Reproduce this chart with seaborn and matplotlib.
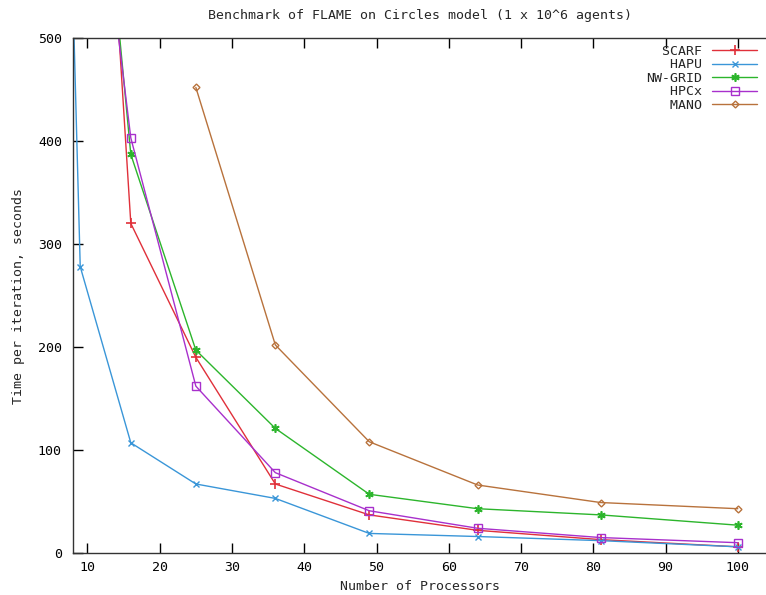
import matplotlib
matplotlib.use("Agg")
import matplotlib.pyplot as plt
import seaborn as sns
import pandas as pd

# ---- data ----
scarf_x = [9, 16, 25, 36, 49, 64, 81, 100]
scarf_y = [1100, 320, 190, 67, 37, 22, 13, 6]
hapu_x = [4, 9, 16, 25, 36, 49, 64, 81, 100]
hapu_y = [1580, 278, 107, 67, 53, 19, 16, 12, 6]
nwgrid_x = [9, 16, 25, 36, 49, 64, 81, 100]
nwgrid_y = [905, 387, 197, 121, 57, 43, 37, 27]
hpcx_x = [9, 16, 25, 36, 49, 64, 81, 100]
hpcx_y = [804, 403, 162, 78, 41, 24, 15, 10]
mano_x = [25, 36, 49, 64, 81, 100]
mano_y = [452, 202, 108, 66, 49, 43]

series_names = ["SCARF", "HAPU", "NW-GRID", "HPCx", "MANO"]
x_ticks = [10, 20, 30, 40, 50, 60, 70, 80, 90, 100]
y_ticks = [0, 100, 200, 300, 400, 500]

title = "Benchmark of FLAME on Circles model (1 x 10^6 agents)"
x_label = "Number of Processors"
y_label = "Time per iteration, seconds"

sns.set_style("ticks")
plt.rcParams["font.family"] = ["DejaVu Sans Mono"]

fig = plt.figure(figsize=(7.66, 5.95), dpi=100)
ax = fig.add_axes([73 / 766, 1 - 553 / 595, 1 - 73 / 766, (553 - 38) / 595])

width = max(len(n) for n in series_names)
series = [
    (scarf_x, scarf_y, "#e0303a", "+", dict(markersize=7, markeredgewidth=1.2)),
    (hapu_x, hapu_y, "#3a96d8", "x", dict(markersize=5, markeredgewidth=1.0)),
    (nwgrid_x, nwgrid_y, "#2cb52c", (6, 2, 0), dict(markersize=6, markeredgewidth=1.2)),
    (hpcx_x, hpcx_y, "#a830cc", "s", dict(markersize=5.5, markeredgewidth=1.0, markerfacecolor="none")),
    (mano_x, mano_y, "#b8723c", "D", dict(markersize=3.5, markeredgewidth=1.0, markerfacecolor="none")),
]

for name, (xs, ys, col, mk, kw) in zip(series_names, series):
    df = pd.DataFrame({"x": xs, "y": ys})
    sns.lineplot(data=df, x="x", y="y", ax=ax, color=col, marker=mk,
                 markeredgecolor=col, linewidth=1.0, label=name.rjust(width),
                 sort=False, **kw)

ax.set_xlim(8, 103.9)
ax.set_ylim(0, 500)
ax.set_xticks(x_ticks)
ax.set_yticks(y_ticks)
ax.tick_params(direction="in", length=7, width=1.0, labelsize=9.5,
               top=True, right=False, colors="black")
ax.tick_params(axis="x", pad=6)
ax.tick_params(axis="y", pad=8)
ax.spines["right"].set_visible(False)
for s in ["left", "bottom", "top"]:
    ax.spines[s].set_linewidth(1.0)
    ax.spines[s].set_color("#333333")

ax.set_xlabel(x_label, fontsize=9.5, labelpad=4)
ax.set_ylabel(y_label, fontsize=9.5, labelpad=9)
fig.text((73 + 766) / 2 / 766, 1 - 15 / 595, title, ha="center", va="center", fontsize=9.5)

leg = ax.legend(loc="upper right", frameon=False, markerfirst=False,
                fontsize=9.5, handlelength=3.4, handletextpad=0.8,
                labelspacing=0.03, borderaxespad=0.0, borderpad=0.3,
                bbox_to_anchor=(0.993, 0.994))

fig.savefig("out.png", dpi=100)
